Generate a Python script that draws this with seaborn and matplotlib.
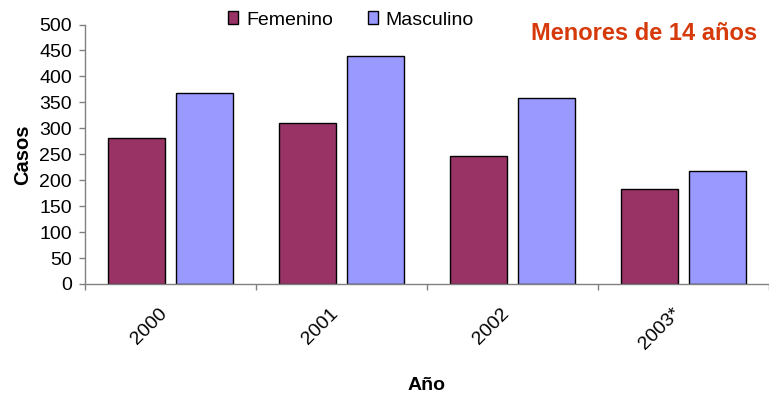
import matplotlib
matplotlib.use("Agg")
import matplotlib.pyplot as plt
import seaborn as sns
import pandas as pd
from matplotlib.ticker import FixedLocator
from matplotlib.patches import Patch

# Casos por año y sexo
anios = ["2000", "2001", "2002", "2003*"]
femenino = [282, 310, 247, 183]
masculino = [368, 439, 359, 218]
series = ["Femenino", "Masculino"]
colores = ["#993366", "#9999FF"]
yticks = [0, 50, 100, 150, 200, 250, 300, 350, 400, 450, 500]

df = pd.DataFrame({
    "Año": anios * 2,
    "Casos": femenino + masculino,
    "Sexo": [series[0]] * len(anios) + [series[1]] * len(anios),
})

sns.set_theme(style="white")
plt.rcParams["font.family"] = ["Liberation Sans", "DejaVu Sans"]
plt.rcParams["text.color"] = "black"
plt.rcParams["axes.labelcolor"] = "black"
plt.rcParams["xtick.color"] = "black"
plt.rcParams["ytick.color"] = "black"

fig = plt.figure(figsize=(7.69, 3.95), dpi=100)
ax = fig.add_axes([85 / 769, 111 / 395, 1.0 - 85 / 769, (284 - 24.5) / 395])

sns.barplot(data=df, x="Año", y="Casos", hue="Sexo", order=anios,
            hue_order=series, palette=colores, width=0.8, gap=0.17,
            edgecolor="black", linewidth=1.0, saturation=1, legend=False, ax=ax)

ax.set_xlim(-0.5, 3.447)
ax.set_ylim(0, 500)
ax.yaxis.set_major_locator(FixedLocator(yticks))
ax.set_yticklabels([str(v) for v in yticks], fontsize=14)

# etiquetas en el centro de cada año, marcas entre grupos
ax.set_xticks(range(len(anios)))
ax.set_xticklabels(anios, rotation=45, ha="right", fontsize=14)
ax.set_xticks([-0.5, 0.5, 1.5, 2.5, 3.5], minor=True)
ax.tick_params(axis="x", which="major", length=0, pad=15)
ax.tick_params(axis="x", which="minor", length=4.5, width=1, color="#808080",
               direction="out", bottom=True)
ax.tick_params(axis="y", length=4.5, width=1, color="#808080", direction="out",
               left=True, pad=5, labelcolor="black")
ax.tick_params(axis="x", labelcolor="black")

for s in ["top", "right"]:
    ax.spines[s].set_visible(False)
for s in ["left", "bottom"]:
    ax.spines[s].set_color("#808080")
    ax.spines[s].set_linewidth(1)

ax.set_ylabel("Casos", fontsize=14.5, fontweight="bold", labelpad=5)
ax.set_xlabel("Año", fontsize=14, fontweight="bold", labelpad=17)

handles = [Patch(facecolor=c, edgecolor="black", linewidth=1) for c in colores]
fig.legend(handles, series, loc="center", bbox_to_anchor=(351 / 769, 1 - 20 / 395),
           ncol=2, frameon=False, fontsize=14, handlelength=0.5,
           handleheight=0.6, handletextpad=0.4, columnspacing=1.8)

fig.text(757 / 769, 1 - 33 / 395, "Menores de 14 años", color="#D63A0A",
         fontsize=17, fontweight="bold", ha="right", va="center")

fig.savefig("out.png", dpi=100)
